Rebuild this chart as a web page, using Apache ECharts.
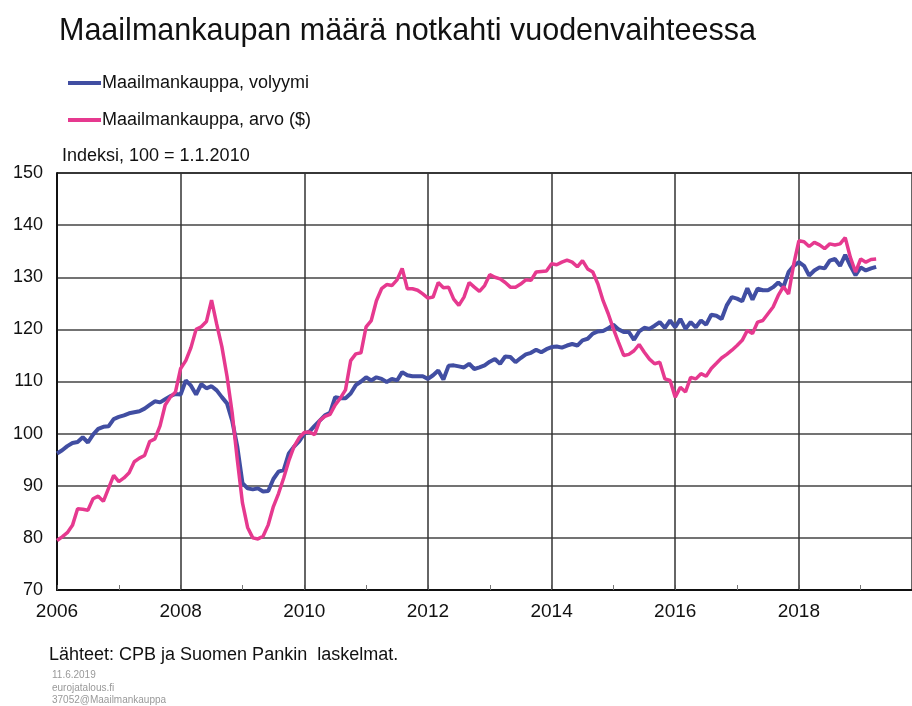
<!DOCTYPE html>
<html>
<head>
<meta charset="utf-8">
<script src="https://cdn.jsdelivr.net/npm/echarts@6/dist/echarts.min.js"></script>
<style>
  html, body { margin: 0; padding: 0; background: #fff; }
  #chart { width: 912px; height: 706px; }
</style>
</head>
<body>
<div id="chart"></div>
<script>
// monthly data, first point = January 2006
const startYear = 2006;
const volume = [
  96.2, 96.8, 97.6, 98.2, 98.4, 99.3, 98.3, 99.8, 100.9, 101.3, 101.4, 102.8,
  103.2, 103.5, 103.9, 104.1, 104.3, 104.8, 105.5, 106.2, 106.0, 106.6, 107.2, 107.6,
  107.5, 110.2, 109.2, 107.5, 109.5, 108.7, 109.1, 108.3, 107.0, 105.8, 102.5, 97.5,
  90.5, 89.5, 89.3, 89.5, 88.9, 89.0, 91.3, 92.7, 93.0, 96.2, 97.5, 98.5,
  100.0, 100.4, 101.5, 102.5, 103.5, 104.0, 107.0, 106.8, 106.8, 107.7, 109.3, 110.0,
  110.8, 110.2, 110.8, 110.5, 109.9, 110.5, 110.2, 111.8, 111.2, 111.0, 111.0, 111.0,
  110.5, 111.2, 112.1, 110.4, 113.0, 113.1, 112.9, 112.7, 113.4, 112.4, 112.7, 113.1,
  113.8, 114.3, 113.4, 114.8, 114.7, 113.7, 114.5, 115.2, 115.5, 116.1, 115.6, 116.2,
  116.6, 116.7, 116.5, 116.9, 117.2, 116.9, 117.9, 118.2, 119.2, 119.6, 119.7, 120.2,
  120.9, 120.0, 119.5, 119.5, 118.0, 119.6, 120.3, 120.1, 120.7, 121.4, 120.3, 121.7,
  120.4, 122.0, 120.1, 121.4, 120.4, 121.7, 120.9, 122.8, 122.6, 122.0, 124.6, 126.2,
  125.9, 125.4, 127.9, 125.7, 127.8, 127.5, 127.5, 128.1, 129.0, 128.1, 131.0, 132.2,
  132.9, 132.2, 130.3, 131.3, 131.9, 131.7, 133.2, 133.5, 132.2, 134.3, 132.2, 130.4,
  131.9, 131.3, 131.7, 132.0
];
const value = [
  79.5, 80.2, 81.0, 82.4, 85.6, 85.5, 85.3, 87.5, 88.0, 87.0, 89.5, 92.0,
  90.8, 91.5, 92.5, 94.6, 95.3, 95.8, 98.5, 99.0, 101.5, 105.5, 107.0, 108.0,
  112.5, 114.0, 116.5, 120.0, 120.5, 121.5, 125.6, 121.0, 116.7, 111.0, 104.0, 95.0,
  86.7, 82.0, 80.0, 79.8, 80.3, 82.5, 86.0, 88.5, 91.5, 94.8, 97.5, 99.2,
  100.2, 100.3, 99.8, 102.5, 103.3, 103.7, 105.5, 106.8, 108.4, 114.0, 115.3, 115.5,
  120.5, 121.7, 125.5, 127.8, 128.6, 128.4, 129.5, 131.7, 127.8, 127.8, 127.5, 126.8,
  126.0, 126.2, 129.0, 128.0, 128.1, 125.8, 124.6, 126.2, 129.0, 128.1, 127.3, 128.4,
  130.5, 130.0, 129.7, 129.0, 128.1, 128.1, 128.7, 129.5, 129.4, 131.0, 131.1, 131.2,
  132.6, 132.4, 132.9, 133.3, 132.9, 132.0, 133.2, 131.6, 131.0, 128.7, 125.5, 123.0,
  120.1, 117.5, 115.0, 115.2, 115.9, 117.1, 115.6, 114.3, 113.4, 113.7, 110.5, 110.2,
  107.0, 108.9, 108.0, 110.8, 110.5, 111.5, 111.0, 112.5, 113.5, 114.5, 115.2, 116.0,
  116.9, 117.9, 119.8, 119.2, 121.4, 121.7, 123.0, 124.3, 126.5, 128.2, 126.8, 132.5,
  137.0, 136.8, 135.9, 136.7, 136.2, 135.5, 136.4, 136.2, 136.4, 137.6, 133.8, 131.0,
  133.5, 132.9, 133.4, 133.5
];
const seriesNames = ['Maailmankauppa, volyymi', 'Maailmankauppa, arvo ($)'];

function toPoints(arr) {
    return arr.map((v, i) => [startYear + i / 12, v]);
}

const font = '"Liberation Sans", Arial, sans-serif';
const myChart = echarts.init(document.getElementById('chart'));

const option = {
    backgroundColor: '#fff',
    animation: false,
    title: {
        text: 'Maailmankaupan määrä notkahti vuodenvaihteessa',
        left: 54, top: 11,
        textStyle: { fontFamily: font, fontSize: 30.5, fontWeight: 'normal', color: '#111' }
    },
    legend: {
        orient: 'vertical',
        left: 63, top: 69,
        itemWidth: 33, itemHeight: 4,
        itemGap: 19,
        icon: 'rect',
        data: seriesNames,
        textStyle: { fontFamily: font, fontSize: 18, color: '#111', padding: [0, 0, 0, -4] }
    },
    grid: { left: 57, right: 0, top: 173, bottom: 116 },
    xAxis: {
        type: 'value',
        min: 2006, max: 2019.83, interval: 2,
        axisLine: { show: true, onZero: false, lineStyle: { color: '#111', width: 2 } },
        axisTick: { show: true, inside: true, length: 5, lineStyle: { color: '#555' } },
        minorTick: { show: true, splitNumber: 2, length: 5, lineStyle: { color: '#777' } },
        axisLabel: {
            showMaxLabel: false, margin: 12,
            fontFamily: font, fontSize: 19, color: '#111',
            formatter: v => String(Math.round(v))
        },
        splitLine: { show: true, lineStyle: { color: '#333', width: 1.5 } }
    },
    yAxis: {
        type: 'value',
        min: 70, max: 150, interval: 10,
        axisLine: { show: true, lineStyle: { color: '#111', width: 2 } },
        axisTick: { show: false },
        axisLabel: { margin: 14, fontFamily: font, fontSize: 18, color: '#111' },
        splitLine: { show: true, lineStyle: { color: '#444', width: 1.5 } }
    },
    series: [
        {
            name: seriesNames[0], type: 'line', data: toPoints(volume),
            symbol: 'none', z: 3,
            lineStyle: { color: '#414ea2', width: 4 },
            itemStyle: { color: '#414ea2' }
        },
        {
            name: seriesNames[1], type: 'line', data: toPoints(value),
            symbol: 'none', z: 4,
            lineStyle: { color: '#e6398f', width: 3.5 },
            itemStyle: { color: '#e6398f' }
        }
    ],
    graphic: [
        { type: 'text', left: 62, top: 147,
          style: { text: 'Indeksi, 100 = 1.1.2010', font: '18px ' + font, fill: '#111' } },
        // top border of the plot
        { type: 'line', shape: { x1: 57, y1: 173, x2: 912, y2: 173 },
          style: { stroke: '#111', lineWidth: 2 } },
        { type: 'text', left: 49, top: 646,
          style: { text: 'Lähteet: CPB ja Suomen Pankin  laskelmat.', font: '18px ' + font, fill: '#111' } },
        { type: 'text', left: 52, top: 670,
          style: { text: '11.6.2019', font: '10px ' + font, fill: '#999' } },
        { type: 'text', left: 52, top: 683,
          style: { text: 'eurojatalous.fi', font: '10px ' + font, fill: '#999' } },
        { type: 'text', left: 52, top: 695,
          style: { text: '37052@Maailmankauppa', font: '10px ' + font, fill: '#999' } }
    ]
};

myChart.setOption(option);
</script>
</body>
</html>
